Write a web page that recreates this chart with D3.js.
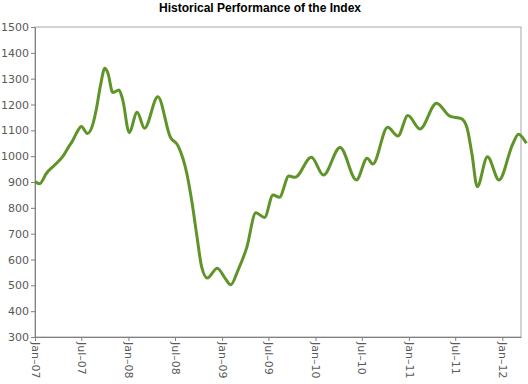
<!DOCTYPE html>
<html>
<head>
<meta charset="utf-8">
<script src="https://cdn.jsdelivr.net/npm/d3@7"></script>
<style>
  body { margin: 0; background: #fff; }
</style>
</head>
<body>
<div id="chart"></div>
<script>
// Index level (roughly at each turn of the line)
const dates = [
  "2007-01-01", "2007-01-19", "2007-02-15", "2007-03-19", "2007-04-19", "2007-05-13",
  "2007-05-28", "2007-06-13", "2007-07-01", "2007-07-25", "2007-08-16", "2007-08-28",
  "2007-09-13", "2007-10-01", "2007-10-13", "2007-11-01", "2007-11-25", "2007-12-10",
  "2008-01-04", "2008-02-04", "2008-03-04", "2008-04-25", "2008-06-13", "2008-07-13",
  "2008-08-16", "2008-09-04", "2008-09-25", "2008-10-13", "2008-11-04", "2008-12-13",
  "2009-01-13", "2009-02-04", "2009-03-04", "2009-04-07", "2009-05-13", "2009-06-16",
  "2009-07-19", "2009-08-13", "2009-09-19", "2009-10-13", "2009-12-16", "2010-02-01",
  "2010-04-07", "2010-06-10", "2010-07-22", "2010-08-13", "2010-10-10", "2010-11-19",
  "2010-12-28", "2011-02-13", "2011-04-19", "2011-06-10", "2011-07-25", "2011-08-16",
  "2011-09-04", "2011-09-25", "2011-11-04", "2011-12-19", "2012-02-10", "2012-03-04",
  "2012-04-04"
];
const values = [
  902, 893, 934, 966, 998, 1037,
  1060, 1091, 1115, 1088, 1127, 1179,
  1269, 1340, 1321, 1246, 1256, 1217,
  1092, 1170, 1108, 1230, 1073, 1040,
  934, 830, 688, 572, 528, 566,
  527, 502, 558, 645, 781, 763,
  850, 841, 923, 918, 996, 927,
  1034, 908, 992, 970, 1112, 1078,
  1157, 1105, 1205, 1155, 1145, 1110,
  1010, 882, 998, 908, 1045, 1085,
  1050
];
const tickDates = [
  "2007-01-01", "2007-07-01", "2008-01-01", "2008-07-01", "2009-01-01", "2009-07-01",
  "2010-01-01", "2010-07-01", "2011-01-01", "2011-07-01", "2012-01-01"
];
const tickLabels = [
  "Jan–07", "Jul–07", "Jan–08", "Jul–08", "Jan–09", "Jul–09",
  "Jan–10", "Jul–10", "Jan–11", "Jul–11", "Jan–12"
];
const yTicks = [300, 400, 500, 600, 700, 800, 900, 1000, 1100, 1200, 1300, 1400, 1500];

const width = 528;
const height = 384;
const margin = { top: 27, right: 7, bottom: 47, left: 35 };

const parse = d3.timeParse("%Y-%m-%d");
const data = dates.map((d, i) => ({ date: parse(d), value: values[i] }));

const svg = d3.select("#chart")
    .append("svg")
    .attr("width", width)
    .attr("height", height);

const x = d3.scaleTime()
    .domain([parse("2007-01-01"), parse("2012-03-14")])
    .range([margin.left, width - margin.right]);

const y = d3.scaleLinear()
    .domain([300, 1500])
    .range([height - margin.bottom, margin.top]);

// Plot frame
svg.append("rect")
    .attr("x", margin.left)
    .attr("y", margin.top)
    .attr("width", width - margin.left - margin.right)
    .attr("height", height - margin.top - margin.bottom)
    .attr("fill", "none")
    .attr("stroke", "#a6a6a6")
    .attr("stroke-width", 1);

// Y axis
const yAxis = svg.append("g")
    .attr("transform", `translate(${margin.left},0)`)
    .call(d3.axisLeft(y)
        .tickValues(yTicks)
        .tickFormat(d3.format("d"))
        .tickSize(4)
        .tickSizeOuter(0)
        .tickPadding(2));

yAxis.select(".domain").attr("stroke", "#808080");
yAxis.selectAll(".tick line").attr("stroke", "#808080");
yAxis.selectAll(".tick text")
    .attr("fill", "#595959")
    .style("font-family", "DejaVu Sans, Verdana, sans-serif")
    .style("font-size", "11px");

// X axis
const xAxis = svg.append("g")
    .attr("transform", `translate(0,${height - margin.bottom})`)
    .call(d3.axisBottom(x)
        .tickValues(tickDates.map(parse))
        .tickFormat((d, i) => tickLabels[i])
        .tickSize(4)
        .tickSizeOuter(0));

xAxis.select(".domain").attr("stroke", "#808080");
xAxis.selectAll(".tick line").attr("stroke", "#808080");
xAxis.selectAll(".tick text")
    .attr("fill", "#595959")
    .style("font-family", "DejaVu Sans, Verdana, sans-serif")
    .style("font-size", "11px")
    .attr("text-anchor", "start")
    .attr("x", 0)
    .attr("y", 0)
    .attr("dy", "0.35em")
    .attr("transform", "translate(0,5) rotate(90)");

// The line
const line = d3.line()
    .x(d => x(d.date))
    .y(d => y(d.value))
    .curve(d3.curveMonotoneX);

svg.append("path")
    .datum(data)
    .attr("d", line)
    .attr("fill", "none")
    .attr("stroke", "#5e9428")
    .attr("stroke-width", 3)
    .attr("stroke-linejoin", "round");

// Title
svg.append("text")
    .attr("x", 260)
    .attr("y", 12)
    .attr("text-anchor", "middle")
    .style("font-family", "Liberation Sans, Arial, sans-serif")
    .style("font-weight", "bold")
    .style("font-size", "12px")
    .text("Historical Performance of the Index");
</script>
</body>
</html>
